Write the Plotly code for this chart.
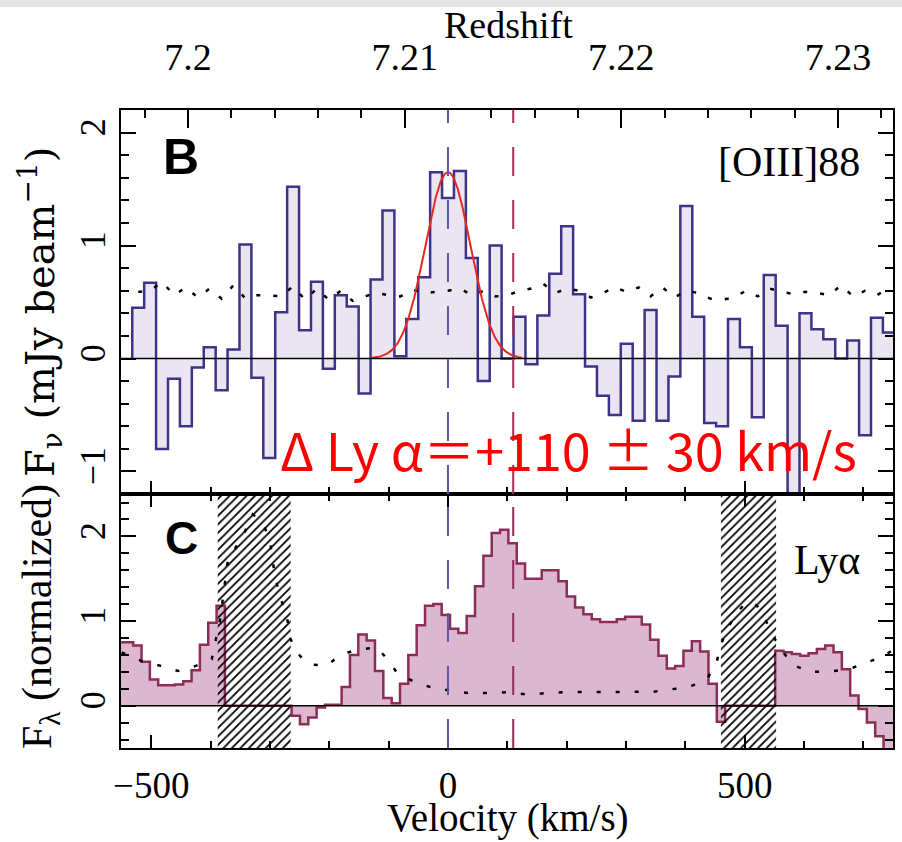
import numpy as np
import plotly.graph_objects as go

# ---------------- data ----------------
# Panel B: [OIII]88 spectrum, channels of ~20 km/s
oiii_v_first = -522.0      # km/s, centre of first channel
oiii_dv = 20.08            # km/s channel width
oiii_flux = [0.45, 0.67, -0.80, -0.18, -0.60, -0.08, 0.10, -0.28, 0.08, 1.01,
             -0.17, -0.88, 0.41, 1.52, 0.25, 0.68, -0.09, 0.56, 0.46, -0.31,
             0.70, 1.31, 0.02, 0.35, 0.72, 1.65, 1.42, 1.66, 0.89, -0.20,
             1.00, 0.00, 0.37, -0.05, 0.38, 0.75, 1.17, 0.57, -0.07, -0.33,
             -0.50, 0.13, -0.55, 0.43, -0.55, -0.16, 1.35, 0.37, -0.57, -0.60,
             0.35, 0.10, -0.52, 0.74, 0.29, -1.50, 0.40, 0.26, 0.17, 0.00,
             0.16, -0.68, 0.36, 0.23]
oiii_rms = [0.59, 0.60, 0.68, 0.56, 0.63, 0.54, 0.62, 0.53, 0.65, 0.53,
            0.56, 0.56, 0.55, 0.64, 0.52, 0.62, 0.52, 0.60, 0.51, 0.55,
            0.58, 0.56, 0.55, 0.61, 0.58, 0.59, 0.60, 0.62, 0.56, 0.60,
            0.55, 0.56, 0.60, 0.62, 0.66, 0.58, 0.62, 0.60, 0.54, 0.58,
            0.63, 0.59, 0.63, 0.55, 0.63, 0.54, 0.60, 0.58, 0.53, 0.52,
            0.54, 0.60, 0.55, 0.62, 0.59, 0.57, 0.59, 0.58, 0.56, 0.65,
            0.55, 0.60, 0.56, 0.63]

# Gaussian fit to [OIII]88
fit_amp = 1.65
fit_center = 0.0
fit_sigma = 38.0
fit_vrange = [-130, 125]

# Panel C: Lya spectrum, bins of ~14 km/s
lya_v_first = -551.5
lya_dv = 14.05
lya_flux = [0.75, 0.75, 0.71, 0.52, 0.31, 0.24, 0.24, 0.25, 0.29, 0.42,
            0.72, 0.98, 1.18,
            0, 0, 0, 0, 0, 0, 0, 0,
            -0.12, -0.22, -0.14, -0.02, 0.01, 0.01, 0.22, 0.60, 0.84, 0.77,
            0.41, 0.09, 0.03, 0.26, 0.60, 0.95, 1.18, 1.20, 1.07,
            0.91, 0.86, 1.06, 1.41, 1.77, 2.04, 2.08, 1.92, 1.68, 1.50,
            1.50, 1.60, 1.60, 1.47, 1.29, 1.16, 1.08, 1.02, 0.99, 0.99,
            1.02, 1.05, 1.05, 0.96, 0.78, 0.59, 0.44, 0.47, 0.65, 0.76,
            0.64, 0.26, -0.19,
            0, 0, 0, 0, 0, 0,
            0.65, 0.63, 0.61, 0.59, 0.62, 0.67, 0.71, 0.63, 0.43, 0.12,
            -0.04, -0.20, -0.36, -0.70, -0.70]
lya_noise_v = [-550, -514, -484, -455, -425, -398, -384, -371, -342, -329,
               -312, -300, -292, -283, -272, -266, -255, -236, -204, -182,
               -154, -120, -101, -86, -59, -30, 3, 34, 67, 101,
               135, 169, 202, 236, 270, 310, 346, 383, 413, 438,
               453, 460, 470, 487, 504, 521, 536, 548, 565, 582,
               610, 641, 675, 705, 734, 757]
lya_noise = [0.63, 0.52, 0.47, 0.41, 0.47, 0.55, 1.02, 1.71, 2.06, 2.26,
             2.16, 1.95, 1.55, 1.28, 1.08, 0.80, 0.63, 0.49, 0.47, 0.60,
             0.66, 0.69, 0.54, 0.39, 0.29, 0.22, 0.18, 0.15, 0.15, 0.16,
             0.13, 0.15, 0.16, 0.16, 0.165, 0.165, 0.165, 0.20, 0.24, 0.33,
             0.52, 0.72, 0.90, 1.10, 1.23, 1.18, 1.00, 0.82, 0.63, 0.48,
             0.40, 0.40, 0.43, 0.51, 0.58, 0.70]

# masked (sky-line) velocity intervals in panel C
masked_intervals = [(-388, -265), (460, 553)]

v_oiii = 0      # systemic ([OIII]88)
v_lya = 110     # Lya peak offset

# axes
v_range = [-551, 750]
vel_ticks = [-500, 0, 500]
vel_labels = ["\u2212500", "0", "500"]
z_sys = 7.212
redshift_ticks = [7.20, 7.21, 7.22, 7.23]
redshift_labels = ["7.2", "7.21", "7.22", "7.23"]
redshift_minor = [round(7.196 + 0.002 * i, 3) for i in range(20)]
c_kms = 299792.458

# ---------------- helpers ----------------
def steps(v_first, dv, vals):
    vals = np.asarray(vals, dtype=float)
    edges = v_first - dv / 2 + dv * np.arange(len(vals) + 1)
    x = np.concatenate([[edges[0]], edges])
    y = np.concatenate([[0.0], vals, [vals[-1]]])
    return x, y

def z_to_v(z):
    return c_kms * (np.asarray(z) - z_sys) / (1 + z_sys)

W, H = 902, 842
L, R, T, B = 121, 9, 110, 94
PW, PH = W - L - R, H - T - B

def px(x, y):
    return (x - L) / PW, (H - B - y) / PH

SERIF = "Liberation Serif"
OIII_LINE = "#3b3488"
OIII_FILL = "#ebe5f2"
LYA_LINE = "#8c2d58"
LYA_FILL = "#dcb8d0"
BLUE_DASH = "#5a58b0"
RED_DASH = "#a33050"

fig = go.Figure()

# ---- Panel B ----
xb, yb = steps(oiii_v_first, oiii_dv, oiii_flux)
fig.add_trace(go.Scatter(x=xb, y=yb, mode="lines",
                         line=dict(shape="hv", color=OIII_LINE, width=2.5),
                         fill="tozeroy", fillcolor=OIII_FILL,
                         xaxis="x", yaxis="y", hoverinfo="skip"))
oiii_v = oiii_v_first + oiii_dv * np.arange(len(oiii_rms))
fig.add_trace(go.Scatter(x=oiii_v, y=oiii_rms, mode="lines",
                         line=dict(color="black", width=2.5, dash="4px,13px"),
                         xaxis="x", yaxis="y", hoverinfo="skip"))
vg = np.linspace(fit_vrange[0], fit_vrange[1], 300)
fig.add_trace(go.Scatter(x=vg, y=fit_amp * np.exp(-0.5 * ((vg - fit_center) / fit_sigma) ** 2),
                         mode="lines", line=dict(color="#e8271f", width=2),
                         xaxis="x", yaxis="y", hoverinfo="skip"))
# invisible trace so the redshift axis is drawn
fig.add_trace(go.Scatter(x=[v_range[0]], y=[0], mode="markers", marker=dict(opacity=0),
                         xaxis="x3", yaxis="y", hoverinfo="skip"))

# ---- Panel C ----
xc, yc = steps(lya_v_first, lya_dv, lya_flux)
fig.add_trace(go.Scatter(x=xc, y=yc, mode="lines",
                         line=dict(shape="hv", color=LYA_LINE, width=2.5),
                         fill="tozeroy", fillcolor=LYA_FILL,
                         xaxis="x2", yaxis="y2", hoverinfo="skip"))
for a, b in masked_intervals:
    fig.add_trace(go.Scatter(x=[a, b, b, a, a], y=[-0.5, -0.5, 2.5, 2.5, -0.5],
                             mode="lines", line=dict(width=0), fill="toself",
                             fillcolor="rgba(0,0,0,0)",
                             fillpattern=dict(shape="/", size=6, solidity=0.3,
                                              fgcolor="black", bgcolor="rgba(255,255,255,0)",
                                              fillmode="replace"),
                             xaxis="x2", yaxis="y2", hoverinfo="skip"))
fig.add_trace(go.Scatter(x=lya_noise_v, y=lya_noise, mode="lines",
                         line=dict(color="black", width=2.5, dash="4px,15px"),
                         xaxis="x2", yaxis="y2", hoverinfo="skip"))

shapes = []
for xr, yr in [("x", "y"), ("x2", "y2")]:
    shapes.append(dict(type="line", xref=f"{xr} domain", yref=yr, x0=0, x1=1, y0=0, y1=0,
                       line=dict(color="black", width=1.5), layer="above"))
    shapes.append(dict(type="line", xref=xr, yref=f"{yr} domain", x0=v_oiii, x1=v_oiii, y0=0, y1=1,
                       line=dict(color=BLUE_DASH, width=2, dash="29px,24px"), layer="above"))
    shapes.append(dict(type="line", xref=xr, yref=f"{yr} domain", x0=v_lya, x1=v_lya, y0=0, y1=1,
                       line=dict(color=RED_DASH if xr == "x" else LYA_LINE, width=2, dash="29px,24px"),
                       layer="above"))
# light grey strip at the very top of the image
x0p, y0p = px(0, 0)
x1p, y1p = px(W, 7)
shapes.append(dict(type="rect", xref="paper", yref="paper", x0=x0p, x1=x1p, y0=y1p, y1=y0p,
                   fillcolor="#e4e4e4", line=dict(width=0), layer="below"))

annotations = []
def ann(text, x, y, size, family=SERIF, color="black", bold=False, xanchor="center", angle=0):
    xp, yp = px(x, y)
    t = f"<b>{text}</b>" if bold else text
    annotations.append(dict(text=t, x=xp, y=yp, xref="paper", yref="paper", showarrow=False,
                            xanchor=xanchor, yanchor="middle", textangle=angle,
                            font=dict(family=family, size=size, color=color)))

ann("B", 181, 157, 50, family="Liberation Sans Narrow, Liberation Sans", bold=True)
ann("C", 181, 538, 46, family="Liberation Sans Narrow, Liberation Sans", bold=True)
ann("[OIII]88", 789, 162, 42)
ann("Ly\u03b1", 827, 560, 42)
ann("\u0394 Ly \u03b1\uff1d+110 \u00b1 30 km/s", 278, 449, 52,
    family="Noto Sans CJK JP", color="#ff0000", xanchor="left")
# axis titles
ann("Redshift", 508, 25, 38)
ann("Velocity (km/s)", 508, 818, 39)
ann("F<sub>\u03bd</sub> (mJy beam<sup>\u22121</sup>)", 40, 312, 40, family="DejaVu Serif", angle=-90)
ann("F<sub>\u03bb</sub> (normalized)", 40, 617, 42, angle=-90)

tick_common = dict(showline=True, linecolor="black", linewidth=2, ticks="inside",
                   tickcolor="black", tickwidth=2, showgrid=False, zeroline=False,
                   automargin=False)
XTICKFONT = dict(family=SERIF, size=38, color="black")
BTICKFONT = dict(family=SERIF, size=37, color="black")
YTICKFONT = dict(family=SERIF, size=36, color="black")

fig.update_layout(
    width=W, height=H, margin=dict(l=L, r=R, t=T, b=B),
    paper_bgcolor="white", plot_bgcolor="white", showlegend=False,
    shapes=shapes, annotations=annotations,
    xaxis=dict(domain=[0, 1], anchor="y", range=v_range, tickmode="array", tickvals=vel_ticks,
               ticklen=13, showticklabels=False,
               minor=dict(ticks="inside", ticklen=7, tickwidth=2, tickcolor="black", dtick=100, tick0=0),
               **tick_common),
    xaxis3=dict(overlaying="x", anchor="y", side="top", range=v_range, tickmode="array",
                tickvals=list(z_to_v(redshift_ticks)), ticktext=redshift_labels, ticklen=18,
                ticklabelstandoff=23, tickfont=XTICKFONT,
                minor=dict(ticks="inside", ticklen=8, tickwidth=2, tickcolor="black",
                           tickmode="array", tickvals=list(z_to_v(redshift_minor))),
                **tick_common),
    yaxis=dict(domain=[0.398, 1], anchor="x", range=[-1.2, 2.2], tickmode="linear", tick0=0, dtick=1,
               ticklen=15, mirror="ticks", tickangle=-90, tickfont=YTICKFONT,
               minor=dict(ticks="inside", ticklen=8, tickwidth=2, tickcolor="black", dtick=0.2, tick0=0),
               **tick_common),
    xaxis2=dict(domain=[0, 1], anchor="y2", range=v_range, tickmode="array", tickvals=vel_ticks,
                ticktext=vel_labels, ticklen=13, mirror="ticks", ticklabelstandoff=4, tickfont=BTICKFONT,
                minor=dict(ticks="inside", ticklen=7, tickwidth=2, tickcolor="black", dtick=100, tick0=0),
                **tick_common),
    yaxis2=dict(domain=[0, 0.398], anchor="x2", range=[-0.5, 2.5], tickmode="linear", tick0=0, dtick=1,
                ticklen=15, mirror="ticks", tickangle=-90, tickfont=YTICKFONT,
                minor=dict(ticks="inside", ticklen=8, tickwidth=2, tickcolor="black", dtick=0.2, tick0=0),
                **tick_common),
)

fig.write_html("out.html")
